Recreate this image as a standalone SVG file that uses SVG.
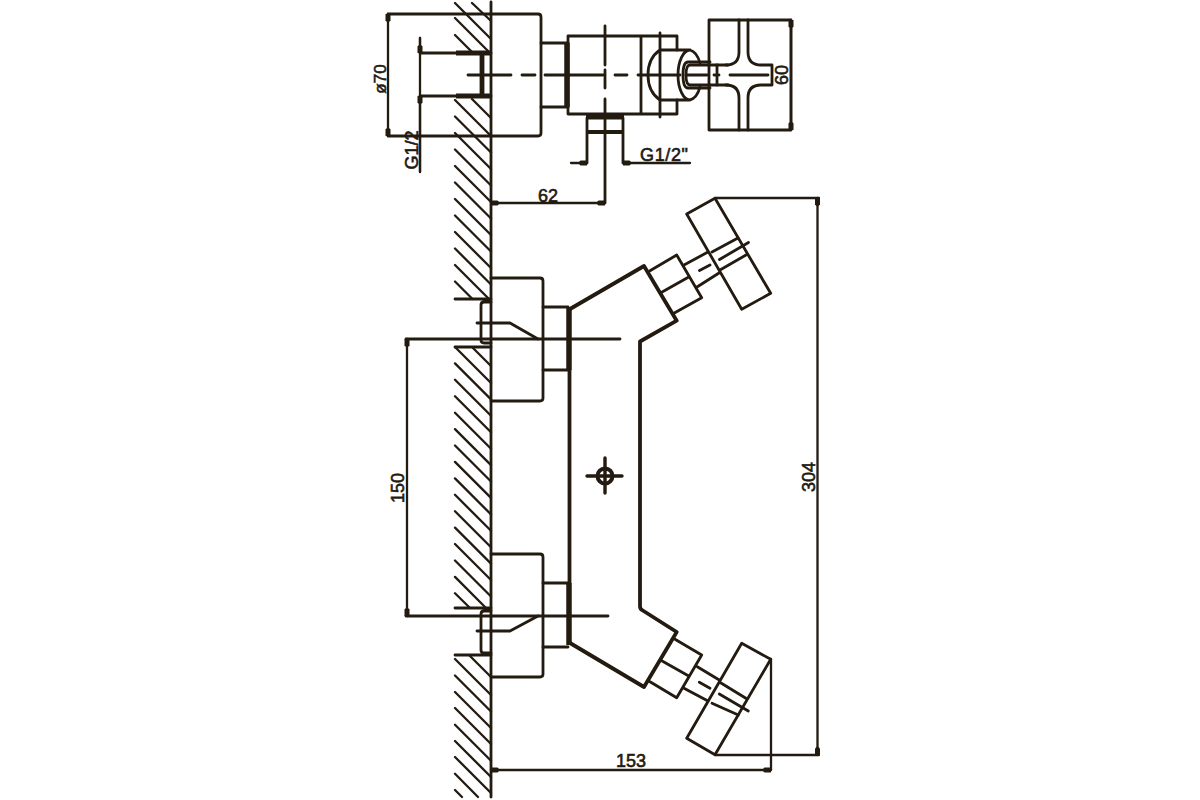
<svg xmlns="http://www.w3.org/2000/svg" width="1200" height="800" viewBox="0 0 1200 800">
<style>
path,line,circle{fill:none;stroke:#231a10;stroke-width:2.8;stroke-linecap:round;stroke-linejoin:round}
.h{stroke-width:2.3}
.d{stroke-width:2.3}
.b{stroke-width:3.8}
.t{stroke-width:5.5;stroke-linecap:butt}
.dim{marker-end:url(#a);marker-start:url(#a)}
.one{marker-end:url(#a)}
text{font-family:"Liberation Sans",Arial,sans-serif;font-size:18px;fill:#231a10;stroke:#231a10;stroke-width:.6}
</style>
<defs>
<marker id="a" markerUnits="userSpaceOnUse" markerWidth="10" markerHeight="7" refX="9" refY="3.5" orient="auto-start-reverse"><polygon points="0,3.5 2.5,1 9,1 9,6 2.5,6" fill="#231a10"/></marker>
</defs>
<rect width="1200" height="800" fill="#fff"/>
<g id="wall">
<line x1="491" y1="2" x2="491" y2="797"/>
<path class="h" d="M472 3L490 20M455 3L490 38M455 18L490 53M455 35L473 53
M472 99L491 118M455 100l36 36M455 116.5l36 36M455 133l36 36M455 149.5l36 36M455 166l36 36M455 182.5l36 36M455 199l36 36M455 215.5l36 36M455 232l36 36M455 248.5l36 36M455 265L489 299M455 281.5L472.5 299
M473 348L491 366M455 347l36 36M455 363.4l36 36M455 379.8l36 36M455 396.3l36 36M455 412.7l36 36M455 429.1l36 36M455 445.5l36 36M455 461.9l36 36M455 478.4l36 36M455 494.8l36 36M455 511.2l36 36M455 527.6l36 36M455 544l36 36M455 560.5l36 36M455 576.9L486 608M455 593.3L470 608
M470 656L491 677M455 659l36 36M455 675.5l36 36M455 692l36 36M455 708l36 36M455 724.7l36 36M455 741l36 36M455 757l36 36M455 773.7L478 797M455 790L462 797"/>
</g>
<g id="top-view">
<path d="M388 14H538Q541 14 541 17V133Q541 136 538 136H388"/>
<path d="M420 53H491M420 96H491M541 43H568M541 107H568"/>
<path d="M456 53H491M456 96H491M482 53V96" style="stroke-width:4.8;stroke-linecap:butt"/>
<path d="M568 36H677V50M677 100V114H568V36M641 36V114M660 33V117"/>
<line class="t" x1="567" y1="43" x2="567" y2="107"/>
<path d="M660 50H690M660 100H690M660 50Q648 58 648 75Q648 92 660 100M690 50A12 25 0 0 0 690 100M690 50Q697 52 700 63M690 100Q697 98 700 87"/>
<path d="M710 62H688Q683 62 683 75Q683 88 688 88H710"/>
<path d="M728 65H690Q686 65 686 75Q686 85 690 85H728"/>
<path d="M709 20H791V130H709Z"/>
<path d="M739 20V52Q739 65 726 65M748 20V52Q748 65 761 65H771M739 130V98Q739 85 726 85M748 130V98Q748 85 761 85H771M772 65V85"/>
<path d="M717 65V73M717 77V85"/>
<path d="M586 117H624" style="stroke-width:5;stroke-linecap:butt"/>
<path d="M587 132H623" style="stroke-width:4;stroke-linecap:butt"/>
<path d="M587 118V163M623 118V163"/>
<path d="M468 75H511M522 75H535M545 75H603M615 75H627M638 75H680M686 75H707M714 75H719M730 75H768"/>
<path d="M605 26V65M605 70V88M605 99V203"/>
</g>
<g id="valve">
<path d="M491 278H540Q543 278 543 281V398Q543 401 540 401H491M491 554H540Q543 554 543 557V674Q543 677 540 677H491"/>
<path d="M543 307H568M543 370H568M543 583H568M543 647H568"/>
<line class="t" x1="569" y1="307" x2="569" y2="370"/>
<line class="t" x1="569" y1="583" x2="569" y2="645"/>
<path class="b" d="M570 309L644 266L676.7 320.7L640 341.5V606Q640 609 642 610L676.7 632L644 687L570 643M569.5 370V583"/>
<path d="M455 299H491M491 302H484Q481 302 481 305V340Q481 343 484 343H491M455 347H491M477 323H510L538 339"/>
<path d="M455 608H491M491 611H484Q481 611 481 614V650Q481 653 484 653H491M455 655H491M477 631H510L538 616"/>
<path d="M406 339H620M406 616H608"/>
<circle cx="605" cy="476" r="7.5" style="stroke-width:4"/>
<path d="M587 476H622M605 458V493" style="stroke-width:3.4"/>
</g>
<g id="upper-handle">
<path d="M650 270.7L676.7 255L701.7 297.7L674.3 313M661.7 292.3L688.3 277.3"/>
<path d="M684 265L708 252M712 252L738 238M697 287L719 273M720 270L746 255M699.5 270.5L710 265M719.5 259.5L748.5 242.5"/>
<path d="M686.7 214L715 198.3L770.7 293.3L741.7 309.3Z"/>
</g>
<g id="lower-handle">
<path d="M650 681.7L676.7 697.7L701.7 655L675 639.3M661.7 660.7L688.3 675.7"/>
<path d="M684 688.3L708 701M712 703.3L738.3 715M697.3 666.7L719.3 680M721 683L746.7 698.7M699.3 682.3L710 688.3M719.3 694L748.3 711"/>
<path d="M686.7 738.3L715 754.7L770.7 659.3L741.7 643.3Z"/>
</g>
<g id="dimensions">
<path class="d" d="M715 198H819M715 755H819"/>
<line class="d dim" x1="388" y1="14" x2="388" y2="136"/>
<line class="d" x1="420" y1="38" x2="420" y2="172"/>
<line class="d one" x1="420" y1="38" x2="420" y2="53"/>
<line class="d one" x1="420" y1="172" x2="420" y2="96"/>
<line class="d dim" x1="791" y1="20" x2="791" y2="130"/>
<line class="d one" x1="571" y1="163" x2="587" y2="163"/>
<line class="d one" x1="690" y1="163" x2="623" y2="163"/>
<line class="d dim" x1="491" y1="203" x2="605" y2="203"/>
<line class="d dim" x1="407" y1="339" x2="407" y2="616"/>
<line class="d dim" x1="817.5" y1="198" x2="817.5" y2="755"/>
<line class="d dim" x1="491" y1="770" x2="771" y2="770"/>
<line class="d" x1="771" y1="659" x2="771" y2="770"/>
<text transform="translate(386 79) rotate(-90)" text-anchor="middle" style="font-size:17px">ø70</text>
<text transform="translate(418 150) rotate(-90)" text-anchor="middle">G1/2</text>
<text transform="translate(788 75) rotate(-90)" text-anchor="middle">60</text>
<text x="664" y="161" text-anchor="middle" textLength="48">G1/2"</text>
<text x="548" y="202" text-anchor="middle">62</text>
<text transform="translate(404 488) rotate(-90)" text-anchor="middle">150</text>
<text transform="translate(815 477) rotate(-90)" text-anchor="middle">304</text>
<text x="631" y="767" text-anchor="middle">153</text>
</g>
</svg>
